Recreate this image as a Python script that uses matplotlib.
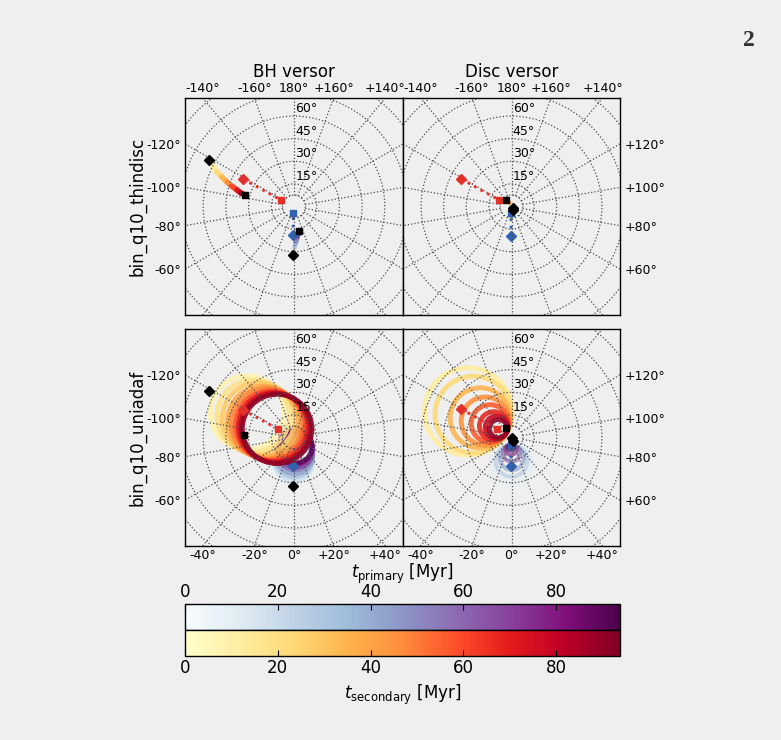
import numpy as np
import matplotlib.pyplot as plt
from matplotlib.patches import Circle
from matplotlib.collections import LineCollection
from matplotlib.cm import ScalarMappable
from matplotlib.colors import Normalize

# -----------------------------
# DATA
# theta = polar angle, phi = azimuth (deg); t in Myr
# -----------------------------
T_END = 93.8
TIME_TICKS = [0, 20, 40, 60, 80]

row_names = ["bin_q10_thindisc", "bin_q10_uniadaf"]
col_names = ["BH versor", "Disc versor"]

# thin disc, BH versor: smooth drift of both spins
thin_bh_sec_theta = [64.0, 59.8, 55.8, 51.4, 47.1, 43.1, 39.2, 36.1, 33.1]
thin_bh_sec_phi = [-118.7, -116.6, -114.1, -112.3, -110.1, -108.2, -106.2, -104.3, -103.3]
thin_bh_sec_t = [0, 8, 17, 28, 40, 53, 66, 80, 93.8]
thin_bh_pri_theta = [32.0, 28.7, 26.1, 23.5, 20.6, 18.4, 16.5]
thin_bh_pri_phi = [-1.0, 0.0, 1.4, 3.2, 6.1, 8.9, 11.5]
thin_bh_pri_t = [0, 12, 25, 40, 56, 74, 93.8]

# thin disc, disc versor: both discs stay close to the pole
thin_disc_sec_theta = [1.5, 3.0, 4.5, 5.8]
thin_disc_sec_phi = [60.0, -150.0, -140.0, -137.0]
thin_disc_sec_t = [0, 30, 60, 93.8]
thin_disc_pri_theta = [2.2, 3.0, 3.6]
thin_disc_pri_phi = [20.0, 12.0, 6.0]
thin_disc_pri_t = [0, 45, 93.8]

# uniform adaf, BH versor: precession loops (centre, opening, time)
uni_bh_sec_ring_theta = [35.0, 30.5, 26.5, 23.0, 20.0, 17.5, 15.5, 13.8, 12.5]
uni_bh_sec_ring_phi = [-118, -118, -118, -117.5, -117.5, -117.5, -117, -117, -117]
uni_bh_sec_ring_r = [24.5, 24, 24, 23.5, 23.5, 23, 23, 23, 23]
uni_bh_sec_ring_t = [8, 18, 28, 38, 48, 58, 69, 80, 91]
uni_bh_pri_ring_theta = [17.5, 16.0, 14.0, 12.0, 10.0, 8.5, 7.0, 6.0]
uni_bh_pri_ring_phi = [-2, -1, 0, 2, 4, 6, 8, 10]
uni_bh_pri_ring_r = [13, 12.5, 12, 12, 11.5, 11.5, 11, 11]
uni_bh_pri_ring_t = [6, 18, 30, 42, 54, 66, 78, 90]

# uniform adaf, disc versor: shrinking precession loops
uni_disc_sec_ring_theta = [33.5, 29.5, 24.5, 20.5, 17.0, 14.0, 12.0, 10.5]
uni_disc_sec_ring_phi = [-121, -121, -122, -122, -123, -123, -124, -124]
uni_disc_sec_ring_r = [29, 25.5, 20, 16, 12.5, 9.5, 7.5, 6]
uni_disc_sec_ring_t = [12, 22, 34, 45, 56, 67, 78, 89]
uni_disc_pri_ring_theta = [17.0, 15.5, 13.5, 10.5, 8.0, 6.5]
uni_disc_pri_ring_phi = [0, 0, 1, 0, -2, -3]
uni_disc_pri_ring_r = [13.5, 10.5, 8, 5.5, 3.5, 2]
uni_disc_pri_ring_t = [10, 26, 42, 58, 74, 88]

# initial (diamond) / final (square) reference directions per panel
sec_axis_theta = [[38.3, 9.6], [38.0, 9.3], [38.5, 12.0], [38.3, 11.5]]
sec_axis_phi = [[-118.4, -116.6], [-118.6, -117.4], [-118.5, -117.8], [-119.4, -121.0]]
pri_axis_theta = [[18.8, 4.5], [19.5, 4.3], [18.8, 7.0], [18.8, 5.6]]
pri_axis_phi = [[-2.0, -5.0], [-1.0, -4.0], [-2.0, -6.0], [-1.0, -3.0]]

# black start / end markers per panel
start_theta = [[64.0, 32.0], [1.5, 2.2], [64.0, 32.0], [0.4, 2.5]]
start_phi = [[-118.7, -1.0], [60.0, 20.0], [-118.7, -1.0], [90.0, 23.0]]
end_theta = [[33.1, 16.5], [5.8], [33.1], [7.3]]
end_phi = [[-103.3, 11.5], [-137.0], [-93.0], [-150.0]]

# -----------------------------
# STYLE / HELPERS
# -----------------------------
BG = "#eeefee"
LIM = 72.0
W, H = 781, 740
GRID_CIRCLES = [7.5, 15, 30, 45, 60, 75, 90, 105]
MERIDIANS = list(range(-160, 181, 20))
RED = "#e3302b"
BLUE = "#2f62b5"

cmap_pri = plt.get_cmap("BuPu")
cmap_sec = plt.get_cmap("YlOrRd")
norm = Normalize(0, T_END)


def to_xy(theta, phi):
    th = np.asarray(theta, float)
    ph = np.radians(np.asarray(phi, float))
    return th * np.sin(ph), -th * np.cos(ph)


def px_rect(x0, y0, x1, y1):
    return [x0 / W, 1 - y1 / H, (x1 - x0) / W, (y1 - y0) / H]


def deg_label(m):
    if m in (0, 180):
        return "%d°" % m
    return "%+d°" % m


def edge_ticks(side):
    pos, lab = [], []
    for m in MERIDIANS:
        dx, dy = np.sin(np.radians(m)), -np.cos(np.radians(m))
        if side == "top" and dy > 1e-9:
            p = LIM * dx / dy
        elif side == "bottom" and dy < -1e-9:
            p = -LIM * dx / dy
        elif side == "left" and dx < -1e-9:
            p = -LIM * dy / dx
        elif side == "right" and dx > 1e-9:
            p = LIM * dy / dx
        else:
            continue
        if abs(p) <= LIM:
            pos.append(p)
            lab.append(deg_label(m))
    return pos, lab


def draw_grid(ax):
    for r in GRID_CIRCLES:
        ax.add_patch(Circle((0, 0), r, fill=False, ls=":", lw=0.9, ec="0.3", zorder=5.5))
    for m in MERIDIANS:
        x, y = to_xy([GRID_CIRCLES[0], 110], [m, m])
        ax.plot(x, y, ls=":", lw=0.9, color="0.3", zorder=5.5)
    for r in (15, 30, 45, 60):
        ax.text(0.8, r + 0.6, "%d°" % r, fontsize=9, ha="left", va="bottom", zorder=9)


def draw_trail(ax, theta, phi, t, cmap, lw=4):
    x, y = to_xy(theta, phi)
    pts = np.column_stack([x, y]).reshape(-1, 1, 2)
    segs = np.concatenate([pts[:-1], pts[1:]], axis=1)
    tt = np.asarray(t, float)
    lc = LineCollection(segs, cmap=cmap, norm=norm, lw=lw, capstyle="round", zorder=3)
    lc.set_array(0.5 * (tt[:-1] + tt[1:]))
    ax.add_collection(lc)


def draw_rings(ax, theta, phi, radius, t, cmap, lw, z, alpha=0.9):
    xc, yc = to_xy(theta, phi)
    for x, y, r, tt in zip(xc, yc, radius, t):
        ax.add_patch(Circle((x, y), r, fill=False, lw=lw, ec=cmap(norm(tt)),
                            alpha=alpha, zorder=z))


def draw_axis(ax, theta, phi, color, z):
    x, y = to_xy(theta, phi)
    ax.plot(x, y, ls=":", lw=2, color=color, zorder=z)
    ax.plot(x[0], y[0], "D", ms=5, color=color, mec=color, zorder=z)
    ax.plot(x[1], y[1], "s", ms=5, color=color, mec=color, zorder=z)


# -----------------------------
# FIGURE
# -----------------------------
fig = plt.figure(figsize=(W / 100, H / 100), dpi=100, facecolor=BG)

rects = [px_rect(185, 98, 403, 315), px_rect(403, 98, 620, 315),
         px_rect(185, 329, 403, 546), px_rect(403, 329, 620, 546)]
axes = [fig.add_axes(r, facecolor=BG) for r in rects]

for i, ax in enumerate(axes):
    row, col = divmod(i, 2)
    ax.set_xlim(-LIM, LIM)
    ax.set_ylim(-LIM, LIM)
    draw_grid(ax)

    xside = "top" if row == 0 else "bottom"
    yside = "left" if col == 0 else "right"
    xp, xl = edge_ticks(xside)
    yp, yl = edge_ticks(yside)
    ax.set_xticks(xp, xl)
    ax.set_yticks(yp, yl)
    ax.tick_params(length=0, labelsize=9, pad=3,
                   top=False, bottom=False, left=False, right=False,
                   labeltop=(row == 0), labelbottom=(row == 1),
                   labelleft=(col == 0), labelright=(col == 1))
    ax.tick_params(axis="x", pad=2)
    for sp in ax.spines.values():
        sp.set_linewidth(1.0)
        sp.set_zorder(10)
    if row == 0:
        ax.set_title(col_names[col], fontsize=12, pad=4)
    if col == 0:
        ax.set_ylabel(row_names[row], fontsize=12, labelpad=0)

# trajectories
draw_trail(axes[0], thin_bh_sec_theta, thin_bh_sec_phi, thin_bh_sec_t, cmap_sec, lw=4)
draw_trail(axes[0], thin_bh_pri_theta, thin_bh_pri_phi, thin_bh_pri_t, cmap_pri, lw=3.5)
draw_trail(axes[1], thin_disc_sec_theta, thin_disc_sec_phi, thin_disc_sec_t, cmap_sec, lw=3)
draw_trail(axes[1], thin_disc_pri_theta, thin_disc_pri_phi, thin_disc_pri_t, cmap_pri, lw=3)

draw_rings(axes[2], uni_bh_pri_ring_theta, uni_bh_pri_ring_phi, uni_bh_pri_ring_r,
           uni_bh_pri_ring_t, cmap_pri, lw=3.5, z=3)
draw_rings(axes[2], uni_bh_sec_ring_theta, uni_bh_sec_ring_phi, uni_bh_sec_ring_r,
           uni_bh_sec_ring_t, cmap_sec, lw=3.5, z=5)
draw_rings(axes[3], uni_disc_pri_ring_theta, uni_disc_pri_ring_phi, uni_disc_pri_ring_r,
           uni_disc_pri_ring_t, cmap_pri, lw=3, z=3, alpha=0.7)
draw_rings(axes[3], uni_disc_sec_ring_theta, uni_disc_sec_ring_phi, uni_disc_sec_ring_r,
           uni_disc_sec_ring_t, cmap_sec, lw=3.5, z=5)

# reference directions and start/end points
for i, ax in enumerate(axes):
    draw_axis(ax, pri_axis_theta[i], pri_axis_phi[i], BLUE, z=4)
    draw_axis(ax, sec_axis_theta[i], sec_axis_phi[i], RED, z=6)
    x, y = to_xy(start_theta[i], start_phi[i])
    ax.plot(x, y, "kD", ms=5, ls="none", zorder=7)
    x, y = to_xy(end_theta[i], end_phi[i])
    ax.plot(x, y, "ks", ms=5, ls="none", zorder=7)

# -----------------------------
# COLORBARS
# -----------------------------
cax_pri = fig.add_axes(px_rect(185, 604, 620, 630))
cax_sec = fig.add_axes(px_rect(185, 630, 620, 656))

cb1 = fig.colorbar(ScalarMappable(norm=norm, cmap=cmap_pri), cax=cax_pri,
                   orientation="horizontal", ticks=TIME_TICKS)
cax_pri.xaxis.set_ticks_position("top")
cax_pri.xaxis.set_label_position("top")
cb1.set_label(r"$t_{\rm primary}$ [Myr]", fontsize=12, labelpad=3)

cb2 = fig.colorbar(ScalarMappable(norm=norm, cmap=cmap_sec), cax=cax_sec,
                   orientation="horizontal", ticks=TIME_TICKS)
cb2.set_label(r"$t_{\rm secondary}$ [Myr]", fontsize=12)

for cb in (cb1, cb2):
    cb.ax.tick_params(direction="in", length=4, labelsize=12, color="k", pad=2.5)
    cb.outline.set_linewidth(1.0)

fig.text(749 / W, 1 - 41 / H, "2", fontsize=17, fontweight="bold",
         family="Liberation Serif", ha="center", va="center", color="#333333")

fig.savefig("out.png", dpi=100, facecolor=BG)
